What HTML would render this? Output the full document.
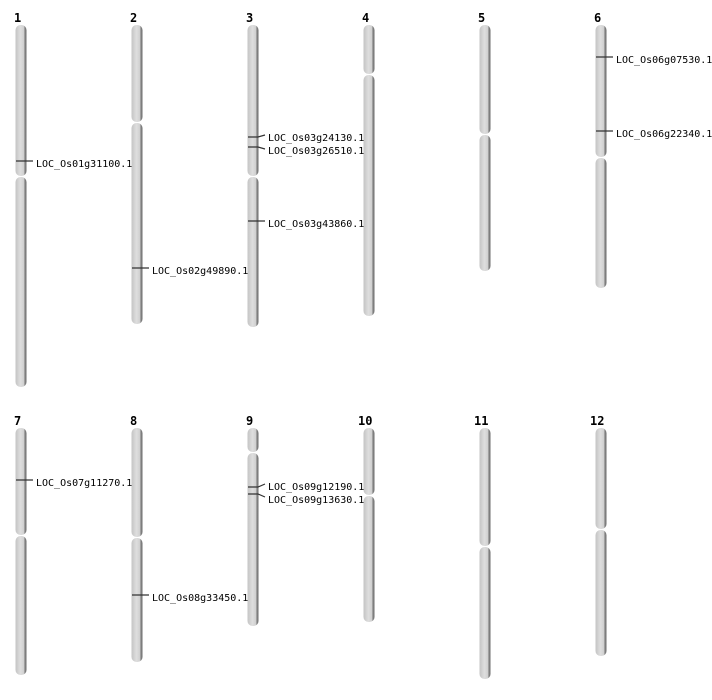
<!DOCTYPE html>
<html><head><meta charset="utf-8"><style>
html,body{margin:0;padding:0;background:#fff;}
svg{display:block}
.n{font:bold 12px "DejaVu Sans Mono","Liberation Mono",monospace;fill:#000}
.l{font:10px "DejaVu Sans Mono","Liberation Mono",monospace;fill:#000}
.m{stroke:#333;stroke-width:1.2;fill:none}
</style></head><body>
<svg width="712" height="700" viewBox="0 0 712 700" xmlns="http://www.w3.org/2000/svg">
<defs>
<linearGradient id="g" x1="0" x2="1" y1="0" y2="0">
<stop offset="0" stop-color="#c4c4c4"/><stop offset="0.45" stop-color="#dedede"/><stop offset="0.75" stop-color="#d0d0d0"/><stop offset="0.85" stop-color="#8a8a8a"/><stop offset="1" stop-color="#6a6a6a"/>
</linearGradient>
</defs>
<g fill="url(#g)">
<rect x="15.5" y="25" width="11" height="151" rx="5"/><rect x="15.5" y="177" width="11" height="210" rx="5"/>
<rect x="131.5" y="25" width="11" height="97" rx="5"/><rect x="131.5" y="123" width="11" height="201" rx="5"/>
<rect x="247.5" y="25" width="11" height="151" rx="5"/><rect x="247.5" y="177" width="11" height="150" rx="5"/>
<rect x="363.5" y="25" width="11" height="49" rx="5"/><rect x="363.5" y="75" width="11" height="241" rx="5"/>
<rect x="479.5" y="25" width="11" height="109" rx="5"/><rect x="479.5" y="135" width="11" height="136" rx="5"/>
<rect x="595.5" y="25" width="11" height="132" rx="5"/><rect x="595.5" y="158" width="11" height="130" rx="5"/>
<rect x="15.5" y="428" width="11" height="107" rx="5"/><rect x="15.5" y="536" width="11" height="139" rx="5"/>
<rect x="131.5" y="428" width="11" height="109" rx="5"/><rect x="131.5" y="538" width="11" height="124" rx="5"/>
<rect x="247.5" y="428" width="11" height="24" rx="5"/><rect x="247.5" y="453" width="11" height="173" rx="5"/>
<rect x="363.5" y="428" width="11" height="67" rx="5"/><rect x="363.5" y="496" width="11" height="126" rx="5"/>
<rect x="479.5" y="428" width="11" height="118" rx="5"/><rect x="479.5" y="547" width="11" height="132" rx="5"/>
<rect x="595.5" y="428" width="11" height="101" rx="5"/><rect x="595.5" y="530" width="11" height="126" rx="5"/>
</g>
<g class="n">
<text x="14" y="22">1</text><text x="130" y="22">2</text><text x="246" y="22">3</text><text x="362" y="22">4</text><text x="478" y="22">5</text><text x="594" y="22">6</text>
<text x="14" y="425">7</text><text x="130" y="425">8</text><text x="246" y="425">9</text><text x="358" y="425">10</text><text x="474" y="425">11</text><text x="590" y="425">12</text>
</g>
<g class="m">
<path d="M16 161H33"/>
<path d="M132 268H149"/>
<path d="M248 137H258L265 135"/><path d="M248 147H258L265 149"/>
<path d="M248 221H265"/>
<path d="M596 57H613"/><path d="M596 131H613"/>
<path d="M16 480H33"/>
<path d="M132 595H149"/>
<path d="M248 487H258L265 484"/><path d="M248 494H258L265 497"/>
</g>
<g class="l">
<text x="36" y="167">LOC_Os01g31100.1</text>
<text x="152" y="274">LOC_Os02g49890.1</text>
<text x="268" y="141">LOC_Os03g24130.1</text>
<text x="268" y="154">LOC_Os03g26510.1</text>
<text x="268" y="227">LOC_Os03g43860.1</text>
<text x="616" y="63">LOC_Os06g07530.1</text>
<text x="616" y="137">LOC_Os06g22340.1</text>
<text x="36" y="486">LOC_Os07g11270.1</text>
<text x="152" y="601">LOC_Os08g33450.1</text>
<text x="268" y="490">LOC_Os09g12190.1</text>
<text x="268" y="503">LOC_Os09g13630.1</text>
</g>
</svg>
</body></html>
